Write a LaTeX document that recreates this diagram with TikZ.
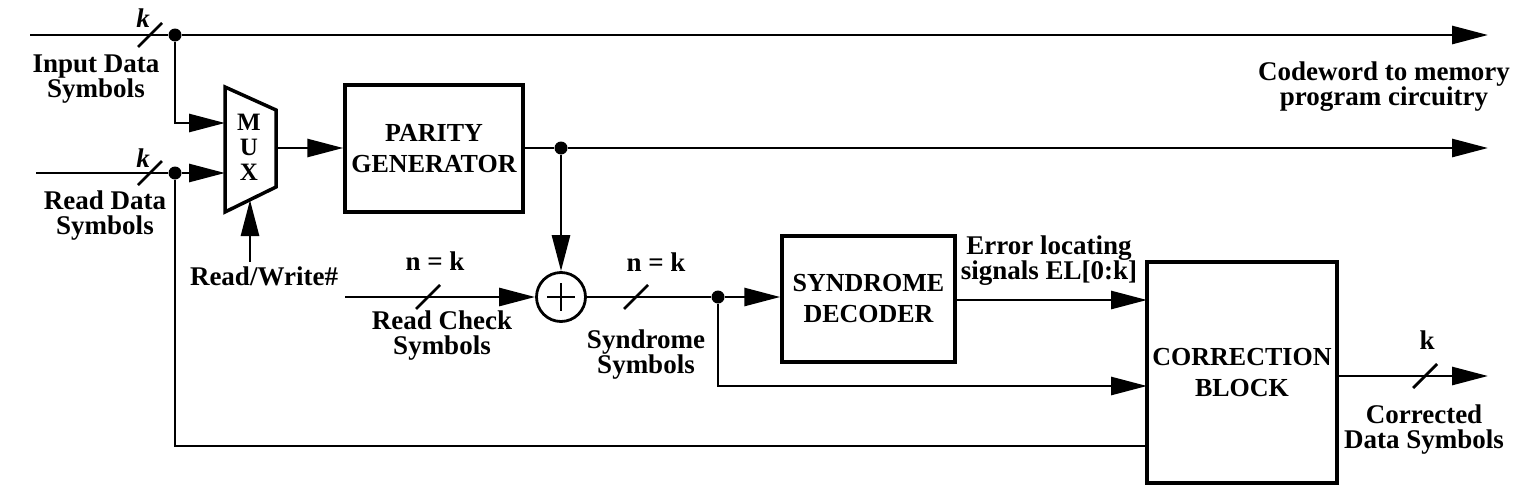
\documentclass[tikz,border=0pt]{standalone}
\usepackage{fontspec}
\setmainfont{Liberation Serif}
\usetikzlibrary{arrows.meta}
\begin{document}
\begin{tikzpicture}[x=1pt,y=-1pt,
  wire/.style={line width=2.8pt},
  arr/.style={wire,-{Triangle[length=36pt,width=18pt]}},
  blk/.style={draw,line width=3.5pt,inner sep=0pt,align=center,font=\fontsize{26}{31}\selectfont\bfseries},
  lbl/.style={font=\fontsize{27}{25}\selectfont\bfseries,align=center,inner sep=0pt,anchor=base},
  dot/.style={circle,fill,inner sep=0pt,minimum size=13pt}]
\useasboundingbox (0,0) rectangle (1528,490);
% boxes
\node[blk,minimum width=178pt,minimum height=127pt] (par) at (434,148.5) {PARITY\\GENERATOR};
\node[blk,minimum width=173pt,minimum height=126pt] (syn) at (868.5,299) {SYNDROME\\DECODER};
\node[blk,minimum width=190pt,minimum height=221pt] (cor) at (1242,372.5) {CORRECTION\\BLOCK};
% mux
\coordinate (m1) at (225,87); \coordinate (m2) at (276,110);
\coordinate (m3) at (276,187); \coordinate (m4) at (225,212);
\draw[line width=3.5pt,line join=miter] (m1) -- (m2) -- (m3) -- (m4) -- cycle;
\node[lbl,font=\fontsize{25}{25}\selectfont\bfseries] (mux) at (249,180) {M\\U\\X};
\coordinate (muxA) at (225,123); \coordinate (muxB) at (225,173);
\coordinate (muxO) at (276,148); \coordinate (muxS) at (250,200);
% xor
\node[draw,circle,line width=2.8pt,minimum size=49pt,inner sep=0pt] (xor) at (561,297) {};
\draw[line width=2.2pt] (xor.center) ++(-14,0) -- ++(28,0) (xor.center) ++(0,-14) -- ++(0,28);
% dots
\node[dot] (d1) at (175,35) {};
\node[dot] (d2) at (175,173) {};
\node[dot] (d3) at (561,148) {};
\node[dot] (d4) at (718,297) {};
% free ends
\coordinate (inA) at (30,35);
\coordinate (inB) at (36,173);
\coordinate (outA) at (1488,35);
\coordinate (outB) at (1488,148);
\coordinate (rw) at (250,262);
\coordinate (rc) at (345,297);
\coordinate (out) at (1488,376);
\coordinate (c1) at (1147,300);
\coordinate (c2) at (1147,386);
\coordinate (c3) at (1147,446);
% wires
\draw[wire] (inA) -- (d1);
\draw[arr] (d1) -- (outA);
\draw[arr] (d1) |- (muxA);
\draw[wire] (inB) -- (d2);
\draw[arr] (d2) -- (muxB);
\draw[wire] (d2) |- (c3);
\draw[arr] (muxO) -- (muxO -| par.west);
\draw[wire] (par.east |- d3) -- (d3);
\draw[arr] (d3) -- (outB);
\draw[arr] (d3) -- (xor.north);
\draw[arr] (rw) -- (muxS);
\draw[arr] (rc) -- (xor.west);
\draw[wire] (xor.east) -- (d4);
\draw[arr] (d4) -- (syn.west |- d4);
\draw[arr] (d4) |- (c2);
\draw[arr] (syn.east |- c1) -- (c1);
\draw[arr] (cor.east |- out) -- (out);
% bus slashes
\draw[wire] (138,47) -- ++(24,-24);
\draw[wire] (138,185) -- ++(24,-24);
\draw[wire] (416,309) -- ++(24,-24);
\draw[wire] (624,309) -- ++(24,-24);
\draw[wire] (1413,388) -- ++(24,-24);
% labels (anchor = baseline of last line)
\node[lbl] (k1) at (143,27) {\itshape k};
\node[lbl] (k2) at (143,167) {\itshape k};
\node[lbl] (lin) at (96,97) {Input Data\\Symbols};
\node[lbl] (lrd) at (105,234) {Read Data\\Symbols};
\node[lbl] (lrw) at (264,285) {Read/Write\#};
\node[lbl] (nk1) at (435,270) {n = k};
\node[lbl] (lrc) at (442,354) {Read Check\\Symbols};
\node[lbl] (nk2) at (656,271) {n = k};
\node[lbl] (lss) at (646,373) {Syndrome\\Symbols};
\node[lbl] (lel) at (1049,279) {Error locating\\signals EL[0:k]};
\node[lbl] (lcw) at (1384,105) {Codeword to memory\\program circuitry};
\node[lbl] (k3) at (1427,349) {k};
\node[lbl] (lcd) at (1424,448) {Corrected\\Data Symbols};
\end{tikzpicture}
\end{document}
